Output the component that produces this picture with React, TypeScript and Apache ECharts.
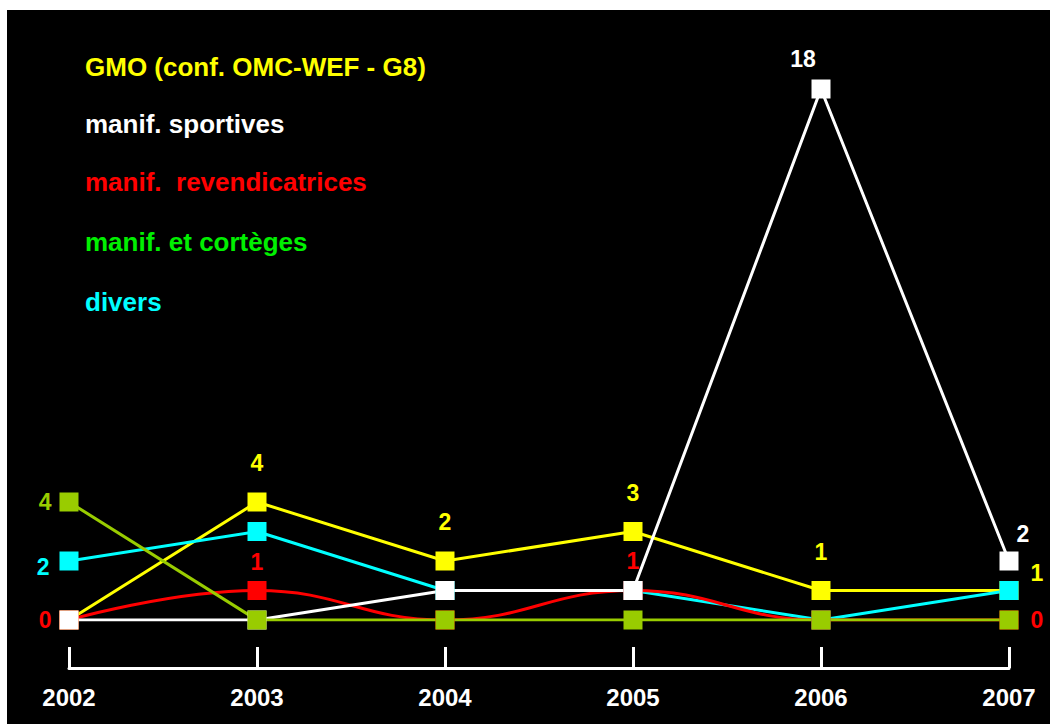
import React, { useEffect, useRef } from "react";
import * as echarts from "echarts";

const years = ["2002", "2003", "2004", "2005", "2006", "2007"];
const seriesNames = [
  "GMO (conf. OMC-WEF - G8)",
  "manif. sportives",
  "manif.  revendicatrices",
  "manif. et cortèges",
  "divers",
];
const gmo = [0, 4, 2, 3, 1, 1];
const sportives = [0, 0, 1, 1, 18, 2];
const revendicatrices = [0, 1, 0, 1, 0, 0];
const corteges = [4, 0, 0, 0, 0, 0];
const divers = [2, 3, 1, 1, 0, 1];

const lineColors = ["#FFFF00", "#FFFFFF", "#FF0000", "#99CC00", "#00FFFF"];
const legendColors = ["#FFFF00", "#FFFFFF", "#FF0000", "#00F000", "#00FFFF"];

type LabelCfg = { [idx: number]: any };

const labelCfgs: LabelCfg[] = [
  {
    1: { position: "top", distance: 18 },
    2: { position: "top", distance: 18 },
    3: { position: "top", distance: 18 },
    4: { position: "top", distance: 18 },
    5: { position: "right", distance: 12, offset: [0, -18] },
  },
  {
    4: { position: "top", distance: 9, offset: [-18, 0] },
    5: { position: "top", distance: 6, offset: [14, 0] },
  },
  {
    0: { position: "left", distance: 8 },
    1: { position: "top", distance: 8 },
    3: { position: "top", distance: 9 },
    5: { position: "right", distance: 12 },
  },
  {
    0: { position: "left", distance: 8 },
  },
  {
    0: { position: "left", distance: 10, offset: [0, 6] },
  },
];

const allValues = [gmo, sportives, revendicatrices, corteges, divers];
// drawing order (z) : GMO, divers, revendicatrices, sportives, cortèges
const drawOrder = [0, 4, 2, 1, 3];

export default function App() {
  const ref = useRef<HTMLDivElement>(null);
  useEffect(() => {
    if (!ref.current) return;
    const chart = echarts.init(ref.current, undefined, { renderer: "svg" });
    const font = "Liberation Sans, Arial, sans-serif";
    const series = drawOrder.map((k) => ({
      name: seriesNames[k],
      type: "line",
      smooth: k === 2 ? 0.45 : false,
      symbol: "rect",
      symbolSize: 19,
      showSymbol: true,
      showAllSymbol: true,
      lineStyle: { color: lineColors[k], width: 3 },
      itemStyle: { color: lineColors[k] },
      label: {
        color: lineColors[k],
        fontFamily: font,
        fontWeight: "bold",
        fontSize: 23,
      },
      emphasis: { disabled: true },
      data: allValues[k].map((v, i) => {
        const c = labelCfgs[k][i];
        return {
          value: v,
          label: c ? { show: true, ...c } : { show: false },
        };
      }),
    }));
    const legendY = [67, 124, 182, 242, 302];
    chart.setOption({
      animation: false,
      backgroundColor: "#FFFFFF",
      grid: { left: 69, right: 41, top: 89, bottom: 104 },
      xAxis: {
        type: "category",
        data: years,
        boundaryGap: false,
        offset: 48,
        axisLine: {
          show: true,
          onZero: false,
          lineStyle: { color: "#FFFFFF", width: 3 },
        },
        axisTick: {
          show: true,
          inside: true,
          length: 21,
          lineStyle: { color: "#FFFFFF", width: 3 },
        },
        axisLabel: {
          color: "#FFFFFF",
          fontFamily: font,
          fontWeight: "bold",
          fontSize: 24,
          margin: 17,
        },
        splitLine: { show: false },
      },
      yAxis: {
        type: "value",
        min: 0,
        max: 18,
        show: false,
        splitLine: { show: false },
      },
      graphic: [
        {
          type: "rect",
          z: -10,
          shape: { x: 7, y: 10, width: 1043, height: 714 },
          style: { fill: "#000000" },
          silent: true,
        },
        ...seriesNames.map((n, i) => ({
          type: "text",
          x: 85,
          y: legendY[i],
          z: 10,
          style: {
            text: n,
            fill: legendColors[i],
            font: `bold 26px ${font}`,
            textVerticalAlign: "middle",
            verticalAlign: "middle",
          },
        })),
      ],
      series,
    });
    return () => chart.dispose();
  }, []);
  return (
    <div
      ref={ref}
      style={{ position: "absolute", left: 0, top: 0, width: 1050, height: 724 }}
    />
  );
}
